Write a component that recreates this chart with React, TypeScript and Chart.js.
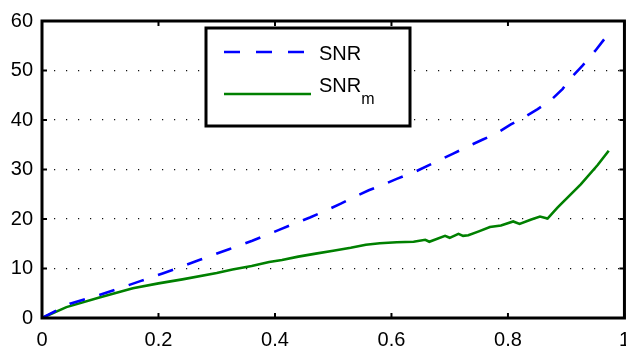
import React, { useEffect, useRef } from 'react';
import { Chart, registerables } from 'chart.js';

Chart.register(...registerables);

// Axis ticks
const xTicks = [0, 0.2, 0.4, 0.6, 0.8, 1];
const yTicks = [0, 10, 20, 30, 40, 50, 60];

// SNR (dashed blue)
const snrX = [0, 0.048, 0.094, 0.133, 0.17, 0.207, 0.24, 0.27, 0.293, 0.321, 0.361, 0.386, 0.407, 0.432, 0.46, 0.487, 0.513, 0.535, 0.561, 0.583, 0.609, 0.64, 0.67, 0.706, 0.73, 0.756, 0.78, 0.805, 0.827, 0.851, 0.872, 0.894, 0.908, 0.928, 0.95, 0.973];
const snrY = [0, 2.9, 4.5, 6.0, 7.5, 9.0, 10.4, 11.7, 12.7, 13.9, 15.6, 16.8, 17.8, 19.0, 20.3, 21.7, 23.1, 24.4, 25.8, 26.8, 28.1, 29.5, 31.2, 33.2, 34.6, 36.0, 37.3, 39.1, 40.5, 42.2, 43.8, 46.3, 48.5, 51.0, 54.0, 57.5];

// SNR_m (solid green)
const snrmX = [0, 0.042, 0.1, 0.156, 0.2, 0.241, 0.3, 0.327, 0.36, 0.39, 0.412, 0.44, 0.47, 0.5, 0.53, 0.556, 0.58, 0.609, 0.638, 0.658, 0.665, 0.692, 0.7, 0.715, 0.723, 0.732, 0.75, 0.769, 0.788, 0.809, 0.82, 0.84, 0.855, 0.868, 0.885, 0.925, 0.954, 0.973];
const snrmY = [0, 2.2, 4.2, 6.0, 7.0, 7.8, 9.1, 9.8, 10.5, 11.3, 11.7, 12.4, 13.0, 13.6, 14.2, 14.8, 15.1, 15.3, 15.4, 15.8, 15.4, 16.6, 16.2, 17.0, 16.6, 16.7, 17.5, 18.4, 18.7, 19.5, 19.0, 19.9, 20.5, 20.1, 22.3, 27.0, 30.9, 33.8];

const seriesNames = ['SNR', 'SNR'];
const seriesSubs = ['', 'm'];
const seriesColors = ['#0000ff', '#008000'];

const FONT = '"Liberation Sans", Arial, Helvetica, sans-serif';

const toPoints = (xs: number[], ys: number[]) => xs.map((x, i) => ({ x, y: ys[i] }));

// Boxed frame with inward tick marks on all four sides
const framePlugin = {
  id: 'frameTicks',
  afterDatasetsDraw(chart: any) {
    const { ctx, chartArea: a, scales } = chart;
    ctx.save();
    ctx.strokeStyle = '#000';
    ctx.lineWidth = 3;
    ctx.strokeRect(a.left, a.top, a.right - a.left, a.bottom - a.top);
    ctx.lineWidth = 2;
    const L = 5;
    const seg = (x1: number, y1: number, x2: number, y2: number) => {
      ctx.beginPath();
      ctx.moveTo(x1, y1);
      ctx.lineTo(x2, y2);
      ctx.stroke();
    };
    yTicks.forEach((v) => {
      const py = scales.y.getPixelForValue(v);
      seg(a.left, py, a.left + L, py);
      seg(a.right, py, a.right - L, py);
    });
    xTicks.forEach((v) => {
      const px = scales.x.getPixelForValue(v);
      seg(px, a.bottom, px, a.bottom - L);
      seg(px, a.top, px, a.top + L);
    });
    ctx.restore();
  },
};

// Legend box with subscripted label
const legendPlugin = {
  id: 'boxLegend',
  afterDraw(chart: any) {
    const { ctx } = chart;
    const bx = 206, by = 28, bw = 204, bh = 98;
    ctx.save();
    ctx.fillStyle = '#fff';
    ctx.fillRect(bx, by, bw, bh);
    ctx.strokeStyle = '#000';
    ctx.lineWidth = 3;
    ctx.strokeRect(bx, by, bw, bh);

    const rows = [
      { lineY: 52, x2: 305, base: 60, dash: [16, 16] },
      { lineY: 94, x2: 311, base: 92, dash: [] as number[] },
    ];
    rows.forEach((r, i) => {
      ctx.strokeStyle = seriesColors[i];
      ctx.lineWidth = 2.5;
      ctx.setLineDash(r.dash);
      ctx.beginPath();
      ctx.moveTo(224, r.lineY);
      ctx.lineTo(r.x2, r.lineY);
      ctx.stroke();
      ctx.setLineDash([]);
      ctx.fillStyle = '#000';
      ctx.textBaseline = 'alphabetic';
      ctx.textAlign = 'left';
      ctx.font = `20px ${FONT}`;
      ctx.fillText(seriesNames[i], 319, r.base);
      if (seriesSubs[i]) {
        const w = ctx.measureText(seriesNames[i]).width;
        ctx.font = `16px ${FONT}`;
        ctx.fillText(seriesSubs[i], 319 + w, r.base + 12);
      }
    });
    ctx.restore();
  },
};

export default function App() {
  const ref = useRef<HTMLCanvasElement>(null);

  useEffect(() => {
    if (!ref.current) return;
    const chart = new Chart(ref.current, {
      type: 'line',
      data: {
        datasets: [
          {
            label: 'SNR',
            data: toPoints(snrX, snrY),
            borderColor: seriesColors[0],
            borderWidth: 2.6,
            borderDash: [16, 15],
            pointRadius: 0,
            tension: 0,
            fill: false,
          },
          {
            label: 'SNR_m',
            data: toPoints(snrmX, snrmY),
            borderColor: seriesColors[1],
            borderWidth: 2.6,
            pointRadius: 0,
            tension: 0,
            fill: false,
          },
        ],
      },
      options: {
        responsive: false,
        animation: false,
        events: [],
        layout: { padding: { left: 0, top: 11, right: 13, bottom: 0 } },
        plugins: { legend: { display: false }, tooltip: { enabled: false } },
        scales: {
          x: {
            type: 'linear',
            min: 0,
            max: 1,
            afterBuildTicks: (s: any) => {
              s.ticks = xTicks.map((v) => ({ value: v }));
            },
            afterFit: (s: any) => {
              s.height = 33;
            },
            grid: { display: false, drawTicks: false },
            border: { display: false },
            ticks: {
              padding: 10,
              color: '#000',
              font: { family: FONT, size: 20 },
              maxRotation: 0,
              autoSkip: false,
              callback: (v: any) => String(Number(Number(v).toFixed(1))),
            },
          },
          y: {
            type: 'linear',
            min: 0,
            max: 60,
            afterBuildTicks: (s: any) => {
              s.ticks = yTicks.map((v) => ({ value: v }));
            },
            afterFit: (s: any) => {
              s.width = 42;
            },
            grid: { display: true, drawTicks: false, color: '#111', lineWidth: 1.2 },
            border: { display: false, dash: [1.2, 10.8] },
            ticks: {
              padding: 9,
              color: '#000',
              font: { family: FONT, size: 20 },
              autoSkip: false,
              callback: (v: any) => String(v),
            },
          },
        },
      },
      plugins: [framePlugin, legendPlugin],
    });
    return () => chart.destroy();
  }, []);

  return (
    <div
      style={{
        position: 'fixed',
        left: 0,
        top: 0,
        width: 626,
        height: 351,
        overflow: 'hidden',
        background: '#fff',
      }}
    >
      <canvas ref={ref} width={640} height={351} style={{ width: 640, height: 351, display: 'block' }} />
    </div>
  );
}
